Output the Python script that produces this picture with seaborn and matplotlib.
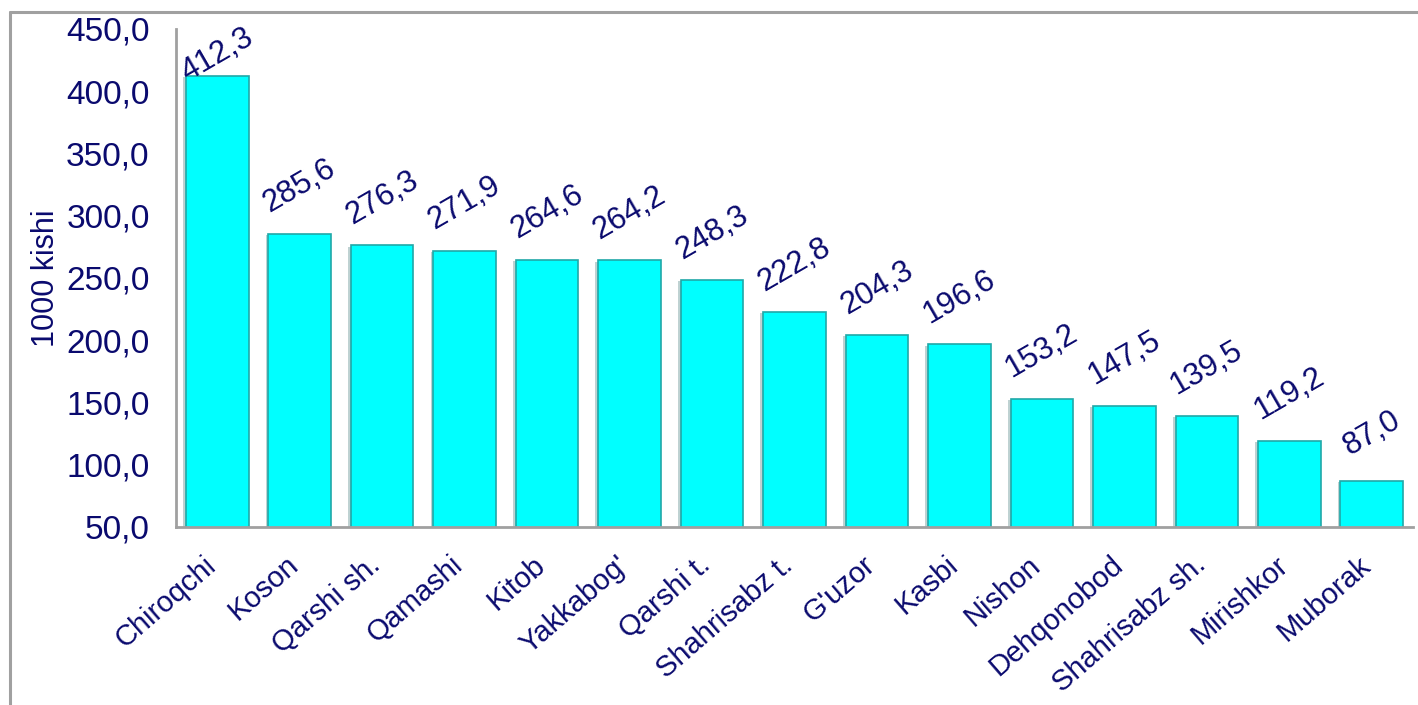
import numpy as np
import pandas as pd
import matplotlib
matplotlib.use("Agg")
import matplotlib.pyplot as plt
import matplotlib.patheffects as pe
import matplotlib.transforms as mtransforms
from matplotlib.lines import Line2D
import seaborn as sns

# Data
districts = ["Chiroqchi", "Koson", "Qarshi sh.", "Qamashi", "Kitob", "Yakkabog'",
             "Qarshi t.", "Shahrisabz t.", "G'uzor", "Kasbi", "Nishon",
             "Dehqonobod", "Shahrisabz sh.", "Mirishkor", "Muborak"]
population = [412.3, 285.6, 276.3, 271.9, 264.6, 264.2, 248.3, 222.8,
              204.3, 196.6, 153.2, 147.5, 139.5, 119.2, 87.0]
y_ticks = [50, 100, 150, 200, 250, 300, 350, 400, 450]

df = pd.DataFrame({"district": districts, "population": population})

navy = "#0A0A6E"
grey = "#A0A0A0"

sns.set_style("white")
plt.rcParams["font.family"] = ["Liberation Sans", "DejaVu Sans"]

fig = plt.figure(figsize=(14.18, 7.05), dpi=100)
ax = fig.add_axes([0.1241, 0.2525, 0.8724, 0.7064])

sns.barplot(data=df, x="district", y="population", color="#00FFFF",
            saturation=1, width=0.76, edgecolor="#20A8A8", linewidth=1.2, ax=ax)
for bar in ax.patches:
    bar.set_path_effects([pe.SimplePatchShadow(offset=(-2, -1), alpha=0.25),
                          pe.Normal()])

ax.set_ylim(50, 450)
ax.set_xlim(-0.5, len(districts) - 0.5)
ax.set_yticks(y_ticks)
ax.set_yticklabels([f"{v:.1f}".replace(".", ",") for v in y_ticks],
                   fontsize=24, color=navy)

# category labels at centres, tick marks at the boundaries
ax.set_xticks(range(len(districts)))
ax.set_xticklabels(districts, rotation=41, ha="right", va="baseline",
                   rotation_mode="anchor", fontsize=21, color=navy)
shift = mtransforms.ScaledTranslation(3 / 100, 0, fig.dpi_scale_trans)
for lab in ax.get_xticklabels():
    lab.set_transform(lab.get_transform() + shift)
ax.set_xticks(np.arange(-0.5, len(districts)), minor=True)
ax.tick_params(axis="x", which="major", length=0, pad=29)
ax.tick_params(axis="x", which="minor", length=9, width=2, color=grey,
               direction="out")
ax.tick_params(axis="y", length=9, width=2, color=grey, direction="out", pad=10)

ax.set_xlabel("")
ax.set_ylabel("1000 kishi", fontsize=22, color=navy, labelpad=4)

for side in ["top", "right"]:
    ax.spines[side].set_visible(False)
for side in ["left", "bottom"]:
    ax.spines[side].set_color(grey)
    ax.spines[side].set_linewidth(2)

# value labels above the bars
label_y = np.minimum(np.array(population) + 38, 429)
for i, (v, ly) in enumerate(zip(population, label_y)):
    ax.text(i, ly, f"{v:.1f}".replace(".", ","), rotation=30,
            ha="center", va="center", rotation_mode="anchor",
            fontsize=22.5, color=navy)

# outer chart frame
fig.add_artist(Line2D([10 / 1418, 1], [1 - 12 / 705, 1 - 12 / 705],
                      transform=fig.transFigure, color=grey, linewidth=2.2))
fig.add_artist(Line2D([10 / 1418, 10 / 1418], [0, 1 - 12 / 705],
                      transform=fig.transFigure, color=grey, linewidth=2.2))

fig.savefig("out.png", dpi=100)
